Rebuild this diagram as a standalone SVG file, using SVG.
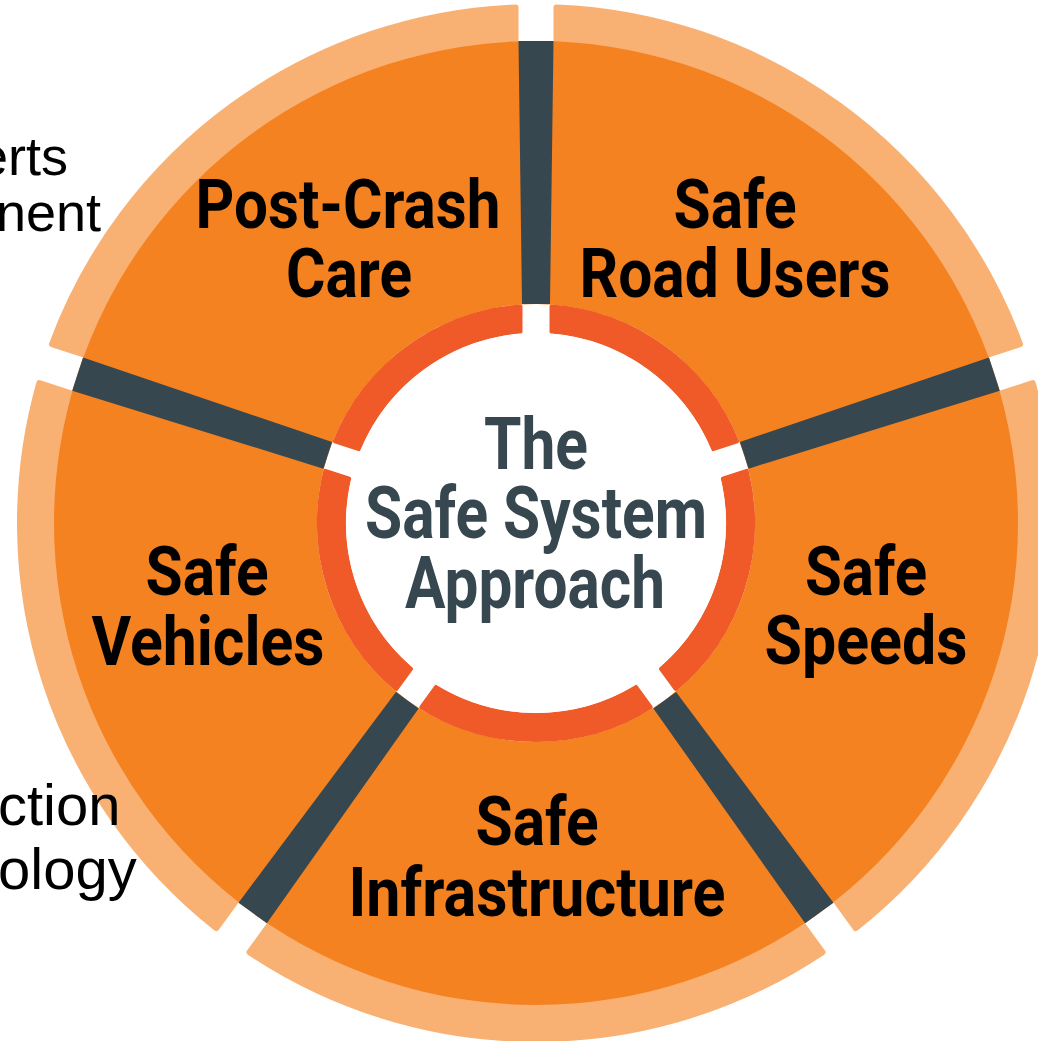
<svg xmlns="http://www.w3.org/2000/svg" width="1038" height="1041" viewBox="0 0 1038 1041">
  <style>
    .band { fill: #F9B073; stroke: #F9B073; stroke-width: 6; stroke-linejoin: round; }
    .wedge { fill: #F58220; }
    .ring { fill: #F05A28; stroke: #F05A28; stroke-width: 4; stroke-linejoin: round; }
    .bar { fill: #37474F; }
    .label { font-family: Roboto, "Liberation Sans", sans-serif; font-weight: 700; font-size: 69px; fill: #000; text-anchor: middle; }
    .title { font-family: Roboto, "Liberation Sans", sans-serif; font-weight: 700; font-size: 72px; fill: #37474F; text-anchor: middle; }
    .note { font-family: "Liberation Sans", Arial, sans-serif; font-weight: 400; fill: #000; }
  </style>
  <rect width="1038" height="1041" fill="#FFFFFF"/>

  <!-- wheel segments, centre (536,523) -->
  <g id="node-safe-road-users">
    <path class="band" d="M556.5,7.41 A516,516 0 0 1 1020.03,344.17 L976.24,358.4 A470,470 0 0 0 556.5,53.45 Z"/>
    <path class="wedge" d="M536,41 A482,482 0 0 1 994.41,374.05 L744.28,455.32 A219,219 0 0 0 536,304 Z"/>
    <text class="label" x="735" y="228" textLength="123" lengthAdjust="spacingAndGlyphs">Safe</text>
    <text class="label" x="735" y="297" textLength="311" lengthAdjust="spacingAndGlyphs">Road Users</text>
  </g>
  <g id="node-safe-speeds">
    <path class="band" d="M1032.7,383.17 A516,516 0 0 1 855.65,928.07 L828.59,890.82 A470,470 0 0 0 988.91,397.4 Z"/>
    <path class="wedge" d="M994.41,374.05 A482,482 0 0 1 819.31,912.95 L664.72,700.17 A219,219 0 0 0 744.28,455.32 Z"/>
    <text class="label" x="866" y="595" textLength="122" lengthAdjust="spacingAndGlyphs">Safe</text>
    <text class="label" x="866" y="664" textLength="203" lengthAdjust="spacingAndGlyphs">Speeds</text>
  </g>
  <g id="node-safe-infrastructure">
    <path class="band" d="M822.48,952.17 A516,516 0 0 1 249.53,952.17 L276.59,914.92 A470,470 0 0 0 795.42,914.92 Z"/>
    <path class="wedge" d="M819.31,912.95 A482,482 0 0 1 252.69,912.95 L407.28,700.17 A219,219 0 0 0 664.72,700.17 Z"/>
    <text class="label" x="537" y="845" textLength="123" lengthAdjust="spacingAndGlyphs">Safe</text>
    <text class="label" x="537" y="916" textLength="377" lengthAdjust="spacingAndGlyphs">Infrastructure</text>
  </g>
  <g id="node-safe-vehicles">
    <path class="band" d="M216.36,928.07 A516,516 0 0 1 39.31,383.17 L83.1,397.4 A470,470 0 0 0 243.42,890.82 Z"/>
    <path class="wedge" d="M252.69,912.95 A482,482 0 0 1 77.59,374.05 L327.72,455.32 A219,219 0 0 0 407.28,700.17 Z"/>
    <text class="label" x="207" y="595" textLength="123" lengthAdjust="spacingAndGlyphs">Safe</text>
    <text class="label" x="208" y="665" textLength="233" lengthAdjust="spacingAndGlyphs">Vehicles</text>
  </g>
  <g id="node-post-crash-care">
    <path class="band" d="M51.98,344.17 A516,516 0 0 1 515.5,7.41 L515.5,53.45 A470,470 0 0 0 95.77,358.4 Z"/>
    <path class="wedge" d="M77.59,374.05 A482,482 0 0 1 536,41 L536,304 A219,219 0 0 0 327.72,455.32 Z"/>
    <text class="label" x="348" y="228" textLength="305" lengthAdjust="spacingAndGlyphs">Post-Crash</text>
    <text class="label" x="349" y="297" textLength="126" lengthAdjust="spacingAndGlyphs">Care</text>
  </g>

  <!-- dark dividers between the segments -->
  <g id="connectors">
    <polygon class="bar" points="518.5,41 553.5,41 550,304 522,304"/>
    <polygon class="bar" points="989,357.41 999.82,390.69 748.61,468.64 739.95,442.01"/>
    <polygon class="bar" points="833.47,902.66 805.16,923.24 653.39,708.4 676.05,691.94"/>
    <polygon class="bar" points="238.53,902.66 266.85,923.24 418.61,708.4 395.95,691.94"/>
    <polygon class="bar" points="83,357.41 332.05,442.01 323.39,468.64 72.18,390.69"/>
  </g>

  <!-- hub: red ring pieces and title -->
  <g id="node-safe-system-approach">
    <path class="ring" d="M551.5,306.55 A217,217 0 0 1 737.07,441.37 L713.21,449.12 A192,192 0 0 0 551.5,331.63 Z"/>
    <path class="ring" d="M746.65,470.85 A217,217 0 0 1 675.77,689 L661.02,668.71 A192,192 0 0 0 722.79,478.6 Z"/>
    <path class="ring" d="M650.69,707.22 A217,217 0 0 1 421.31,707.22 L436.06,686.93 A192,192 0 0 0 635.94,686.93 Z"/>
    <path class="ring" d="M396.23,689 A217,217 0 0 1 325.35,470.85 L349.21,478.6 A192,192 0 0 0 410.98,668.71 Z"/>
    <path class="ring" d="M334.93,441.37 A217,217 0 0 1 520.5,306.55 L520.5,331.63 A192,192 0 0 0 358.79,449.12 Z"/>
    <circle cx="536" cy="523" r="190" fill="#FFFFFF"/>
    <text class="title" x="536" y="469" textLength="104" lengthAdjust="spacingAndGlyphs">The</text>
    <text class="title" x="536" y="538" textLength="342" lengthAdjust="spacingAndGlyphs">Safe System</text>
    <text class="title" x="535" y="608" textLength="260" lengthAdjust="spacingAndGlyphs">Approach</text>
  </g>

  <!-- text fragments along the left edge -->
  <g id="side-notes">
    <text class="note" x="68" y="175" font-size="54" text-anchor="end">erts</text>
    <text class="note" x="101" y="231" font-size="54" text-anchor="end">nent</text>
    <text class="note" x="-2" y="825" font-size="58">ction</text>
    <text class="note" x="-2" y="889" font-size="58">ology</text>
  </g>
</svg>
